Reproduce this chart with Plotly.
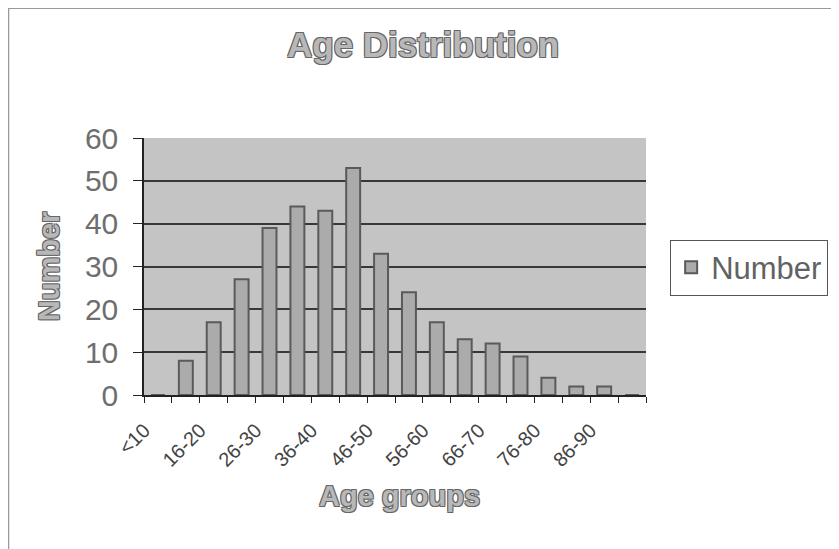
import plotly.graph_objects as go

categories = ["<10", "11-15", "16-20", "21-25", "26-30", "31-35", "36-40", "41-45", "46-50",
              "51-55", "56-60", "61-65", "66-70", "71-75", "76-80", "81-85", "86-90", "91-95"]
values = [0, 8, 17, 27, 39, 44, 43, 53, 33, 24, 17, 13, 12, 9, 4, 2, 2, 0]
tick_labels = ["<10", "16-20", "26-30", "36-40", "46-50", "56-60", "66-70", "76-80", "86-90"]
y_ticks = [0, 10, 20, 30, 40, 50, 60]

idx = list(range(len(categories)))
label_pos = [categories.index(t) - 0.49 for t in tick_labels]
boundaries = [i - 0.5 for i in range(len(categories) + 1)]

outline = "1px 1px 0 #666, -1px -1px 0 #666, 1px -1px 0 #666, -1px 1px 0 #666"
title_font = dict(family="Liberation Sans, Arial", size=35, color="#b8b8b8", weight="bold", shadow=outline)
axis_title_font = dict(family="Liberation Sans, Arial", size=29, color="#b8b8b8", weight="bold", shadow=outline)

W, H = 831, 541
L, R, T, B = 136, 192, 130, 154

fig = go.Figure()
fig.add_trace(go.Bar(
    x=idx, y=values, name="Number",
    marker=dict(color="#ababab", line=dict(color="#5a5a5a", width=2)),
    width=0.5, hovertext=categories,
))

fig.update_layout(
    width=W, height=H,
    margin=dict(l=L, r=R, t=T, b=B),
    paper_bgcolor="white", plot_bgcolor="#c4c4c4",
    showlegend=True,
    legend=dict(x=1.046, y=0.496, xanchor="left", yanchor="middle",
                bordercolor="#555", borderwidth=1, bgcolor="white",
                font=dict(family="Liberation Sans, Arial", size=31, color="#626262")),
    xaxis=dict(range=[-0.5, len(categories) - 0.5], tickmode="array",
               tickvals=label_pos, ticktext=tick_labels, tickangle=-45,
               ticks="", showgrid=False, zeroline=False, ticklabelstandoff=14,
               showline=True, linecolor="#222", linewidth=1.5,
               tickfont=dict(family="Liberation Sans, Arial", size=20, color="#444"),
               minor=dict(tickmode="array", tickvals=boundaries, ticks="outside",
                          ticklen=6, tickcolor="#222", showgrid=False)),
    yaxis=dict(range=[0, 60], tickmode="array", tickvals=y_ticks,
               ticks="outside", ticklen=9, tickcolor="#222", ticklabelstandoff=9,
               showgrid=True, gridcolor="#383838", gridwidth=1.5,
               zeroline=False, showline=True, linecolor="#222", linewidth=1.5,
               tickfont=dict(family="Liberation Sans, Arial", size=30, color="#6e6e6e")),
    annotations=[
        dict(text="Age Distribution", x=424, y=45, showarrow=False, font=title_font),
        dict(text="Number", x=49, y=266, showarrow=False, textangle=-90, font=axis_title_font),
        dict(text="Age groups", x=400, y=496, showarrow=False, font=axis_title_font),
    ],
)

# convert screen-pixel positions of text annotations into paper coords
pw, ph = W - L - R, H - T - B
for a in fig.layout.annotations:
    px, py = a.x, a.y
    a.x = (px - 8 - L) / pw
    a.y = (H - B - (py - 8)) / ph
    a.xref = "paper"
    a.yref = "paper"
    a.xanchor = "center"
    a.yanchor = "middle"

# thin outer frame (top and left edges of the chart area)
fx0 = (0 - L) / pw
fy1 = (H - B - 0) / ph
fig.add_shape(type="line", xref="paper", yref="paper", x0=fx0, x1=(W - L) / pw, y0=fy1, y1=fy1,
              line=dict(color="#9a9a9a", width=2))
fig.add_shape(type="line", xref="paper", yref="paper", x0=fx0, x1=fx0, y0=(-B) / ph, y1=fy1,
              line=dict(color="#9a9a9a", width=2))

fig.write_html("out.html")
